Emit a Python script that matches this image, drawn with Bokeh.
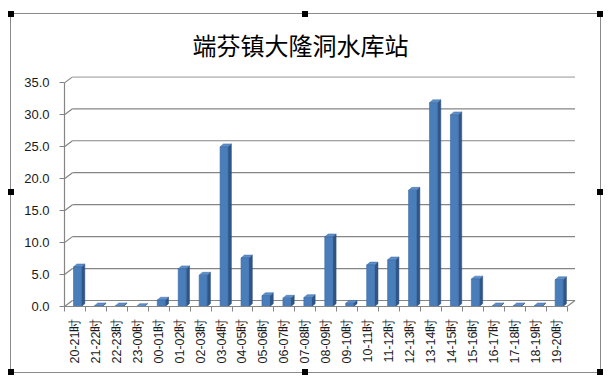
import math
from bokeh.plotting import figure
from bokeh.models import Range1d, FixedTicker, NumeralTickFormatter
from bokeh.embed import file_html
from bokeh.resources import INLINE

title_text = "端芬镇大隆洞水库站"
hours = ["20-21时", "21-22时", "22-23时", "23-00时", "00-01时", "01-02时", "02-03时",
         "03-04时", "04-05时", "05-06时", "06-07时", "07-08时", "08-09时", "09-10时",
         "10-11时", "11-12时", "12-13时", "13-14时", "14-15时", "15-16时", "16-17时",
         "17-18时", "18-19时", "19-20时"]
rain = [6.2, 0.1, 0.1, 0.0, 1.0, 5.9, 4.9, 25.0, 7.6, 1.7, 1.3, 1.4, 10.9, 0.5,
        6.5, 7.3, 18.2, 31.9, 30.0, 4.3, 0.1, 0.1, 0.1, 4.2]
y_ticks = [0, 5, 10, 15, 20, 25, 30, 35]

n = len(hours)
xs = list(range(n))
# 3D geometry (data units)
bw = 0.38      # front face width
sdx = 0.16     # side depth in x
sdy = 0.45     # side depth in y
wdx = 0.38     # back wall offset x
wdy = 0.94     # back wall offset y
shift = 0.12

# chart border + selection handles drawn as CSS backgrounds of the figure element
g = "linear-gradient(#8a8a8a,#8a8a8a)"
k = "linear-gradient(#000,#000)"
layers = [
    f"{g} 10px 13px / 591px 1px no-repeat",
    f"{g} 10px 372px / 591px 1px no-repeat",
    f"{g} 10px 13px / 1px 360px no-repeat",
    f"{g} 600px 13px / 1px 360px no-repeat",
]
for hx in [8, 302, 597]:
    for hy in [11, 189, 369]:
        if hx == 302 and hy == 189:
            continue
        layers.insert(0, f"{k} {hx}px {hy}px / 6px 6px no-repeat")

p = figure(frame_width=512, frame_height=230, output_backend="svg", toolbar_location=None,
           x_range=Range1d(-0.5, n - 0.5 + 0.45), y_range=Range1d(0, 36),
           min_border_left=64, min_border_right=28, min_border_top=76, min_border_bottom=72)
p.styles = {"background": ", ".join(layers) + ", transparent"}
p.outline_line_color = None
p.xgrid.visible = False
p.ygrid.visible = False
p.background_fill_color = "white"
p.border_fill_color = None

# Title
p.title.text = title_text
p.title.align = "left"
p.title.offset = 128
p.title.text_font = "Noto Sans CJK SC"
p.title.text_font_size = "24px"
p.title.text_font_style = "normal"
p.title.text_color = "#000000"
p.title.standoff = 30

grid_color = "#858585"
# back wall gridlines
gx0 = [-0.5 + wdx for _ in y_ticks]
gx1 = [n - 0.5 + wdx for _ in y_ticks]
gy = [t + wdy for t in y_ticks]
p.segment(x0=gx0, y0=gy, x1=gx1, y1=gy, line_color=grid_color, line_width=1.2)
# left wall stubs
p.segment(x0=[-0.5] * len(y_ticks), y0=y_ticks, x1=gx0, y1=gy, line_color=grid_color, line_width=1.2)
# floor right edge
p.segment(x0=[n - 0.5], y0=[0], x1=[n - 0.5 + wdx], y1=[wdy], line_color=grid_color, line_width=1.2)

# bars: side faces, top faces, front faces
cx = [x + shift for x in xs]
side_xs = [[c + bw / 2, c + bw / 2 + sdx, c + bw / 2 + sdx, c + bw / 2] for c in cx]
side_ys = [[0, sdy, v + sdy, v] for v in rain]
top_xs = [[c - bw / 2, c + bw / 2, c + bw / 2 + sdx, c - bw / 2 + sdx] for c in cx]
top_ys = [[v, v, v + sdy, v + sdy] for v in rain]
p.patches(side_xs, side_ys, fill_color="#2f5687", line_color="#2a4d7a", line_width=0.5)
p.patches(top_xs, top_ys, fill_color="#5f8fcb", line_color="#3d6aa3", line_width=0.5)
p.vbar(x=cx, top=rain, bottom=0, width=bw, fill_color="#4a7ebb", line_color="#3a6aa5", line_width=0.6)

# Y axis
yax = p.yaxis[0]
yax.ticker = FixedTicker(ticks=y_ticks)
yax.bounds = (0, 35)
yax.formatter = NumeralTickFormatter(format="0.0")
yax.axis_line_color = grid_color
yax.axis_line_width = 1.2
yax.major_tick_line_color = grid_color
yax.major_tick_out = 5
yax.major_tick_in = 0
yax.minor_tick_line_color = None
yax.major_label_text_font = "Liberation Sans"
yax.major_label_text_font_size = "13px"
yax.major_label_text_color = "#1a1a1a"
yax.major_label_standoff = 10

# X axis
xax = p.xaxis[0]
xax.ticker = FixedTicker(ticks=xs, minor_ticks=[x - 0.5 for x in xs] + [n - 0.5])
xax.major_label_overrides = {i: h for i, h in enumerate(hours)}
xax.major_label_orientation = math.pi / 2
xax.bounds = (-0.5, n - 0.5)
xax.axis_line_color = grid_color
xax.axis_line_width = 1.2
xax.major_tick_line_color = None
xax.minor_tick_line_color = grid_color
xax.minor_tick_out = 5
xax.minor_tick_in = 0
xax.major_label_text_font = "Liberation Sans"
xax.major_label_text_font_size = "12.5px"
xax.major_label_text_color = "#1a1a1a"
xax.major_label_standoff = 6

open("out.html", "w").write(file_html(p, INLINE))
